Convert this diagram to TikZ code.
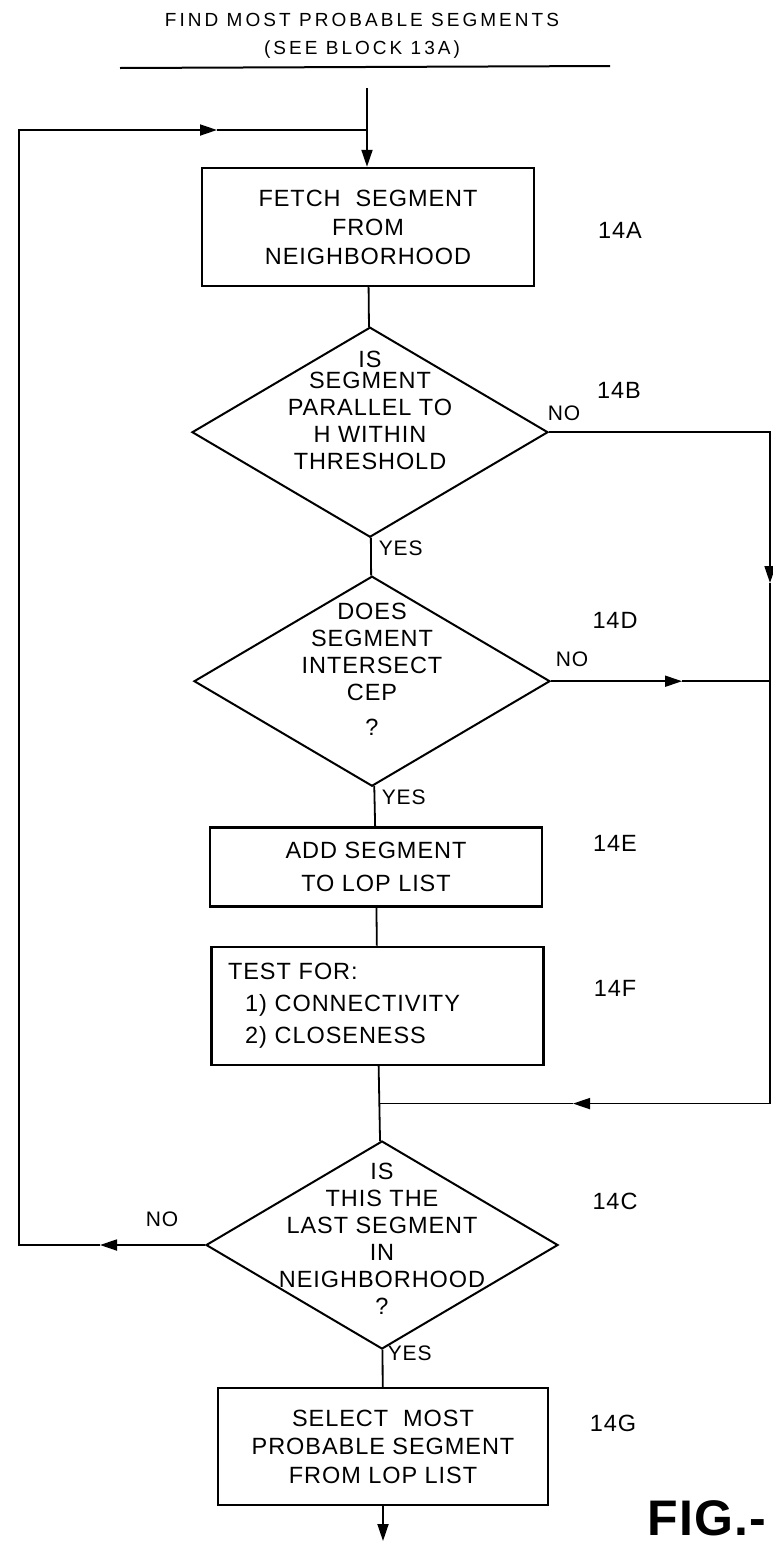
\documentclass[tikz,border=0pt]{standalone}
\usepackage{fontspec}
\setmainfont{Liberation Sans}[LetterSpace=4]
\newfontfamily\titlefont{Liberation Sans}[LetterSpace=16]
\newfontfamily\figfont{Liberation Sans}[LetterSpace=2]
\usetikzlibrary{positioning,shapes.geometric,arrows.meta}

\begin{document}
\begin{tikzpicture}[x=1pt,y=-1pt,
  >={Triangle[length=17pt,width=11pt]},
  line width=1.8pt,
  box/.style={draw,line width=2.4pt,align=center,inner sep=0pt,minimum width=332pt,font=\fontsize{23.5}{29}\selectfont},
  decision/.style={draw,diamond,line width=2pt,inner sep=0pt,minimum width=356pt,minimum height=210pt},
  qtext/.style={align=center,inner sep=0pt,font=\fontsize{23.5}{27}\selectfont},
  refno/.style={inner sep=0pt,font=\fontsize{23.5}{27}\selectfont},
  yn/.style={inner sep=0pt,font=\fontsize{21}{25}\selectfont}]
\path[use as bounding box,fill=white] (0,0) rectangle (773,1545);

% heading
\node[align=center,inner sep=0pt,font=\titlefont\fontsize{19}{28}\selectfont] (head) at (362,36) {FIND MOST PROBABLE SEGMENTS\\(SEE BLOCK 13A)};
\draw[line width=2pt] (120,68) -- (610,66);

% blocks
\node[box,minimum height=118pt] (b14A) at (368,227) {FETCH\ \ SEGMENT\\FROM\\NEIGHBORHOOD};
\node[decision,below=39pt of b14A,xshift=2pt] (c14B) {};
\node[qtext,yshift=22pt] (q14B) at (c14B) {IS\\[-6pt]SEGMENT\\PARALLEL TO\\H WITHIN\\THRESHOLD};
\node[decision,below=37pt of c14B,xshift=2pt] (c14D) {};
\node[qtext,yshift=12pt] (q14D) at (c14D) {DOES\\SEGMENT\\INTERSECT\\CEP\\[8pt]?};
\node[box,minimum height=79pt,below=39pt of c14D,xshift=4pt,font=\fontsize{23.5}{33}\selectfont] (b14E) {ADD SEGMENT\\TO LOP LIST};
\node[box,minimum height=118pt,below=38pt of b14E,xshift=1.5pt,text width=299pt,align=left,font=\fontsize{23.5}{32}\selectfont] (b14F) {TEST FOR:\\\hspace*{17pt}1) CONNECTIVITY\\\hspace*{17pt}2) CLOSENESS};
\node[decision,minimum width=352pt,minimum height=208pt,below=74pt of b14F,xshift=4.5pt] (c14C) {};
\node[qtext,yshift=6pt] (q14C) at (c14C) {IS\\THIS THE\\LAST SEGMENT\\IN\\NEIGHBORHOOD\\?};
\node[box,minimum width=330pt,minimum height=117pt,below=37pt of c14C,xshift=1pt,font=\fontsize{23.5}{28.5}\selectfont] (b14G) {SELECT\ \ MOST\\PROBABLE SEGMENT\\FROM LOP LIST};

% reference numerals
\node[refno] (r14A) at (620,230) {14A};
\node[refno] (r14B) at (619,390) {14B};
\node[refno] (r14D) at (615,620) {14D};
\node[refno] (r14E) at (615,843) {14E};
\node[refno] (r14F) at (615,988) {14F};
\node[refno] (r14C) at (615,1201) {14C};
\node[refno] (r14G) at (613,1423) {14G};

% branch labels
\node[yn] (n14B) at (564,413) {NO};
\node[yn] (n14D) at (572,659) {NO};
\node[yn] (n14C) at (162,1219) {NO};
\node[yn,anchor=west] (y14B) at (378,548) {YES};
\node[yn,anchor=west] (y14D) at (381,797) {YES};
\node[yn,anchor=west] (y14C) at (387,1353) {YES};

\node[anchor=west,inner sep=0pt,font=\figfont\fontsize{50}{50}\selectfont\bfseries] (fig) at (647,1518) {FIG.-};

% helper points
\coordinate (in) at (367,88);
\coordinate (jA) at (367,130);
\coordinate (edgeR) at (770,0);
\coordinate (edgeL) at (19,0);
\coordinate (tipR) at (770,583);
\coordinate (tipM) at (573,0);
\coordinate (tipD) at (682,0);
\coordinate (tipL) at (100,0);
\coordinate (tipT) at (217,0);
\coordinate (out) at (0,1541);

% main flow
\draw[->] (in) -- (in |- b14A.north);
\draw (b14A) -- (c14B);
\draw (c14B) -- (c14D);
\draw (c14D) -- (b14E);
\draw (b14E) -- (b14F);
\draw (b14F) -- coordinate[pos=0.5] (jM) (c14C);
\draw (c14C) -- (b14G);
\draw[->] (b14G) -- (b14G.south |- out);

% NO branches on the right
\draw[->] (c14B.east) -| (tipR);
\draw[->] (tipR) |- (jM -| tipM);
\draw (jM -| tipM) -- (jM);
\draw[->] (c14D.east) -- (c14D.east -| tipD);
\draw (c14D.east -| tipD) -- (c14D.east -| edgeR);

% loop back
\draw[->] (c14C.west) -- (c14C.west -| tipL);
\draw[->] (c14C.west -| tipL) -| (edgeL |- jA) -- (jA -| tipT);
\draw (jA -| tipT) -- (jA);
\end{tikzpicture}
\end{document}
